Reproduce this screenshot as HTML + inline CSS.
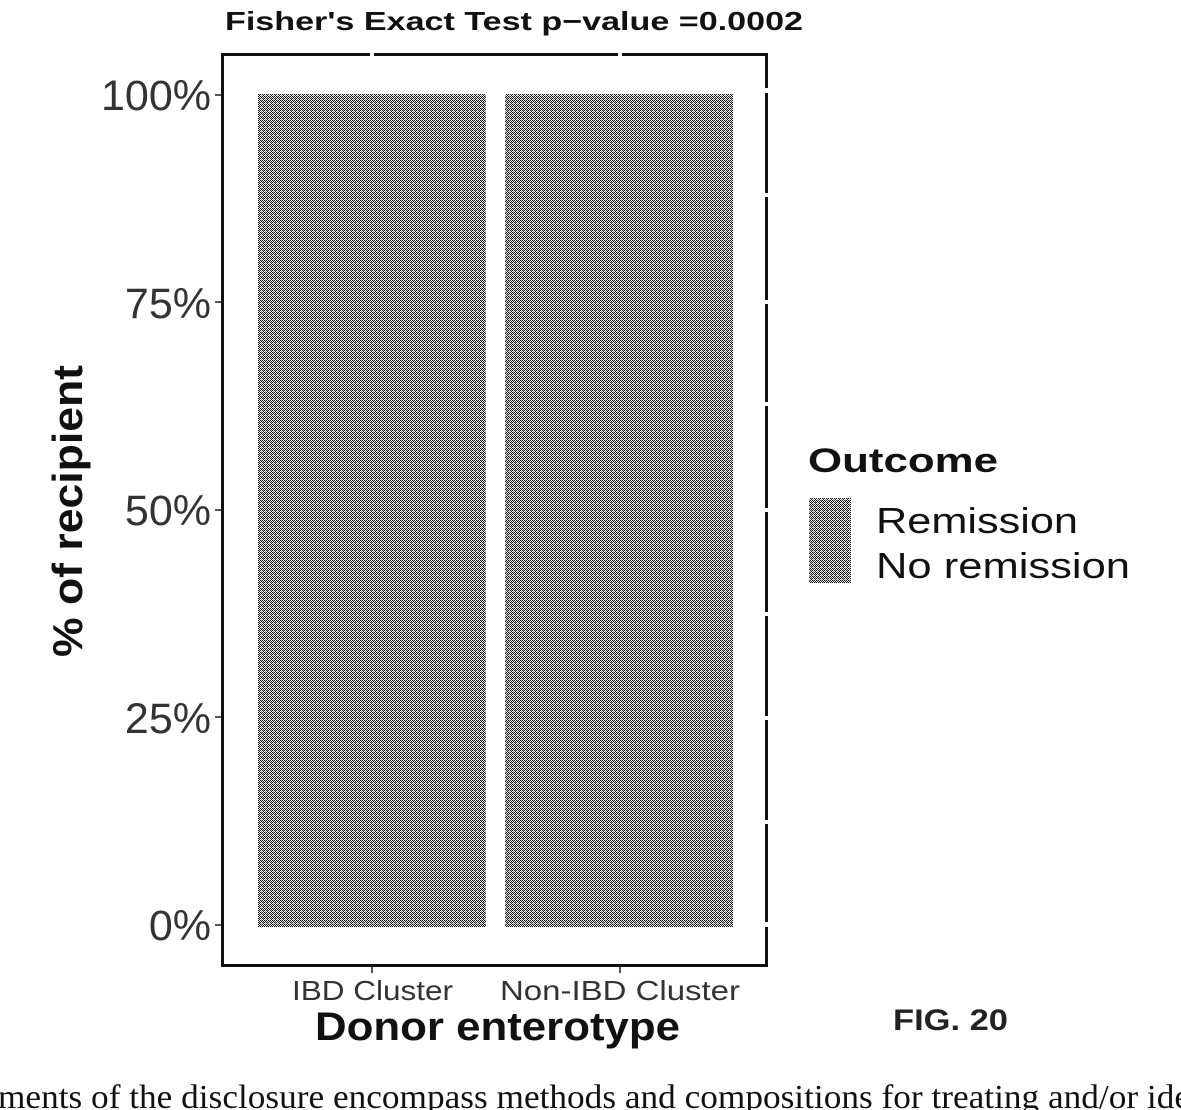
<!DOCTYPE html>
<html><head><meta charset="utf-8"><style>
html,body{margin:0;padding:0;background:#fff;}
svg{display:block;}
</style></head><body>
<svg width="1181" height="1110" viewBox="0 0 1181 1110" xmlns="http://www.w3.org/2000/svg">
<defs>
<pattern id="hp" x="0" y="0" width="4" height="4" patternUnits="userSpaceOnUse">
<rect width="4" height="4" fill="#fff"/>
<rect x="0" y="0" width="1" height="1" fill="#111"/>
<rect x="1" y="1" width="1" height="1" fill="#111"/>
<rect x="2" y="2" width="1" height="1" fill="#111"/>
<rect x="3" y="3" width="1" height="1" fill="#111"/>
<rect x="2" y="0" width="1" height="1" fill="#111"/>
<rect x="3" y="1" width="1" height="1" fill="#222"/>
<rect x="0" y="2" width="1" height="1" fill="#111"/>
<rect x="1" y="3" width="1" height="1" fill="#999"/>
<rect x="1" y="0" width="1" height="1" fill="#bbb"/>
<rect x="3" y="2" width="1" height="1" fill="#bbb"/>
</pattern>
</defs>
<rect width="1181" height="1110" fill="#fff"/>
<!-- title -->
<text x="225" y="30" font-family="Liberation Sans, sans-serif" font-weight="bold" font-size="26" fill="#111" textLength="578" lengthAdjust="spacingAndGlyphs">Fisher's Exact Test p−value =0.0002</text>
<!-- bars -->
<rect x="258" y="94" width="228" height="833" fill="url(#hp)" shape-rendering="crispEdges"/>
<rect x="505" y="94" width="228" height="833" fill="url(#hp)" shape-rendering="crispEdges"/>
<!-- frame -->
<g fill="#111" shape-rendering="crispEdges">
<rect x="221" y="53" width="3" height="914"/>
<rect x="221" y="53" width="547" height="3"/>
<rect x="765" y="53" width="3" height="914"/>
<rect x="221" y="964" width="547" height="3"/>
</g>
<g fill="#fff" shape-rendering="crispEdges">
<rect x="370" y="52" width="4" height="5"/>
<rect x="618" y="52" width="4" height="5"/>
<rect x="764" y="88" width="5" height="5"/>
<rect x="764" y="193" width="5" height="4"/>
<rect x="764" y="300" width="5" height="4"/>
<rect x="764" y="402" width="5" height="4"/>
<rect x="764" y="508" width="5" height="4"/>
<rect x="764" y="612" width="5" height="4"/>
<rect x="764" y="716" width="5" height="4"/>
<rect x="764" y="820" width="5" height="4"/>
<rect x="764" y="922" width="5" height="5"/>
</g>
<!-- y ticks -->
<g stroke="#555" stroke-width="2">
<line x1="215" y1="95" x2="221" y2="95"/>
<line x1="215" y1="302" x2="221" y2="302"/>
<line x1="215" y1="510" x2="221" y2="510"/>
<line x1="215" y1="717" x2="221" y2="717"/>
<line x1="215" y1="925" x2="221" y2="925"/>
<line x1="372" y1="967" x2="372" y2="973"/>
<line x1="620" y1="967" x2="620" y2="973"/>
</g>
<g font-family="Liberation Sans, sans-serif" font-size="43" fill="#333" text-anchor="end">
<text x="211" y="110">100%</text>
<text x="211" y="318">75%</text>
<text x="211" y="525">50%</text>
<text x="211" y="733">25%</text>
<text x="211" y="940">0%</text>
</g>
<text transform="translate(82,511) rotate(-90)" text-anchor="middle" font-family="Liberation Sans, sans-serif" font-weight="bold" font-size="42" fill="#111" textLength="292" lengthAdjust="spacingAndGlyphs">% of recipient</text>
<!-- x labels -->
<g font-family="Liberation Sans, sans-serif" font-size="28" fill="#333">
<text x="292" y="1000" textLength="161" lengthAdjust="spacingAndGlyphs">IBD Cluster</text>
<text x="500" y="1000" textLength="240" lengthAdjust="spacingAndGlyphs">Non-IBD Cluster</text>
</g>
<text x="315" y="1040" font-family="Liberation Sans, sans-serif" font-weight="bold" font-size="40" fill="#111" textLength="365" lengthAdjust="spacingAndGlyphs">Donor enterotype</text>
<!-- legend -->
<text x="808" y="472" font-family="Liberation Sans, sans-serif" font-weight="bold" font-size="34" fill="#111" textLength="190" lengthAdjust="spacingAndGlyphs">Outcome</text>
<rect x="809" y="498" width="42" height="85" fill="url(#hp)" shape-rendering="crispEdges"/>
<g font-family="Liberation Sans, sans-serif" font-size="36" fill="#111">
<text x="876" y="533" textLength="202" lengthAdjust="spacingAndGlyphs">Remission</text>
<text x="876" y="578" textLength="254" lengthAdjust="spacingAndGlyphs">No remission</text>
</g>
<text x="893" y="1030" font-family="Liberation Sans, sans-serif" font-weight="bold" font-size="30" fill="#222" textLength="115" lengthAdjust="spacingAndGlyphs">FIG. 20</text>
<text x="-2" y="1108" font-family="Liberation Serif, serif" font-size="34" fill="#111" textLength="1192" lengthAdjust="spacingAndGlyphs">ments of the disclosure encompass methods and compositions for treating and/or ide</text>
</svg>
</body></html>
